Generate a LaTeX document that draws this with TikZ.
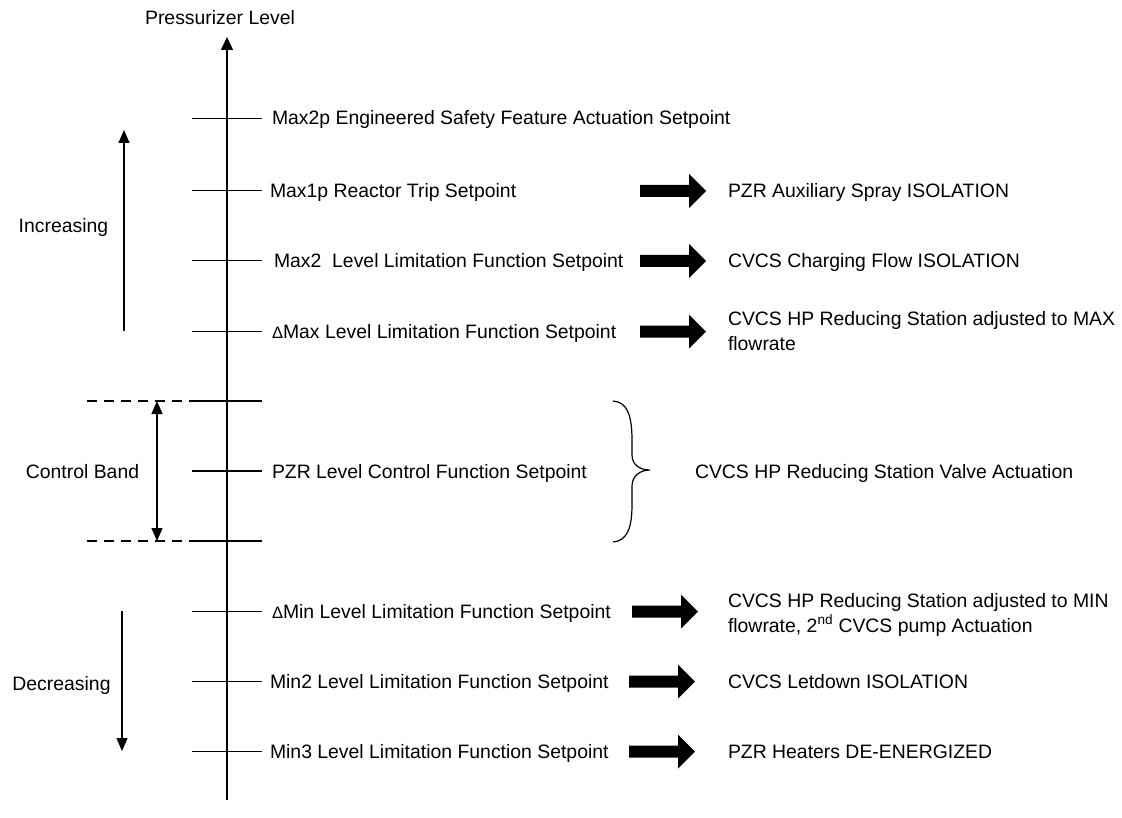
\documentclass[tikz,border=0pt]{standalone}
\usepackage{fontspec}
\setmainfont{Liberation Sans}
\usetikzlibrary{arrows.meta}
\begin{document}
\begin{tikzpicture}[x=1pt,y=-1pt,
  every node/.style={font=\fontsize{19.4}{25}\selectfont, inner sep=0pt, outer sep=0pt},
  lbl/.style={anchor=base west},
  ctr/.style={anchor=base},
  line/.style={line width=1.3pt},
  tip/.style={line width=1.3pt,-{Triangle[length=13pt,width=11pt]}},
  dtip/.style={line width=1.3pt,{Triangle[length=13pt,width=11pt]}-{Triangle[length=13pt,width=11pt]}},
  band/.style={line width=1.3pt, dash pattern=on 10pt off 7pt},
  blockarrow/.pic={\fill[black] (0,-6) -- (49,-6) -- (49,-17) -- (66,0) -- (49,17) -- (49,6) -- (0,6) -- cycle;}
]
\newcommand\dsym{{\fontsize{16.5}{15}\selectfont Δ}}
\useasboundingbox (0,0) rectangle (1122,818);

% title and axis
\node[ctr] (title) at (220,25) {Pressurizer Level};
\coordinate (axbot) at (227,800);
\coordinate (axtop) at (227,37);
\draw[line width=1.5pt,-{Triangle[length=13pt,width=12pt]}] (axbot) -- (axtop);

% ticks
\foreach \n/\y in {t1/118.3,t2/190.5,t3/260.5,t4/331.5,t5/401,t6/471,t7/541,t8/611.7,t9/681.7,t10/751.7}{
  \coordinate (\n L) at (192,\y);
  \coordinate (\n R) at (262,\y);
  \draw[line] (\n L) -- (\n R);
}

% setpoint labels
\node[lbl] (sp1) at (272,125) {Max2p Engineered Safety Feature Actuation Setpoint};
\node[lbl] (sp2) at (270,197.5) {Max1p Reactor Trip Setpoint};
\node[lbl] (sp3) at (274,267.5) {Max2\ \ Level Limitation Function Setpoint};
\node[lbl] (sp4) at (272,338.5) {\dsym Max Level Limitation Function Setpoint};
\node[lbl] (sp6) at (272,478) {PZR Level Control Function Setpoint};
\node[lbl] (sp8) at (272,618.7) {\dsym Min Level Limitation Function Setpoint};
\node[lbl] (sp9) at (270,688.7) {Min2 Level Limitation Function Setpoint};
\node[lbl] (sp10) at (270,758.7) {Min3 Level Limitation Function Setpoint};

% block arrows
\pic (ba2) at (640,191) {blockarrow};
\pic (ba3) at (640,261) {blockarrow};
\pic (ba4) at (640,331.7) {blockarrow};
\pic (ba8) at (632,611.7) {blockarrow};
\pic (ba9) at (629,681.7) {blockarrow};
\pic (ba10) at (629,751.7) {blockarrow};

% action labels
\node[lbl] (ac2) at (728,198) {PZR Auxiliary Spray ISOLATION};
\node[lbl] (ac3) at (728,268) {CVCS Charging Flow ISOLATION};
\node[lbl] (ac4a) at (728,326) {CVCS HP Reducing Station adjusted to MAX};
\node[lbl] (ac4b) at (728,351) {flowrate};
\node[lbl] (ac6) at (695,478) {CVCS HP Reducing Station Valve Actuation};
\node[lbl] (ac8a) at (728,607.5) {CVCS HP Reducing Station adjusted to MIN};
\node[lbl] (ac8b) at (728,632.5) {flowrate, 2\textsuperscript{nd} CVCS pump Actuation};
\node[lbl] (ac9) at (728,688.7) {CVCS Letdown ISOLATION};
\node[lbl] (ac10) at (728,758.7) {PZR Heaters DE-ENERGIZED};

% brace
\draw[line width=1.2pt] (613,401) .. controls (627,402) and (632,415) .. (632,440)
  -- (632,455) .. controls (632,465) and (640,470) .. (650,470)
  .. controls (640,470) and (632,476) .. (632,486)
  -- (632,505) .. controls (632,528) and (627,541) .. (613,542);

% control band
\coordinate (cbtop) at (87,401);
\coordinate (cbbot) at (87,541);
\draw[band] (cbtop) -- (t5L);
\draw[band] (cbbot) -- (t7L);
\coordinate (cba) at (157,401);
\coordinate (cbb) at (157,541);
\draw[dtip] (cba) -- (cbb);
\node[ctr] (cblbl) at (82.5,478) {Control Band};

% increasing / decreasing
\node[ctr] (inc) at (63.5,233) {Increasing};
\coordinate (inca) at (124,331);
\coordinate (incb) at (124,130);
\draw[tip] (inca) -- (incb);
\node[ctr] (dec) at (61.5,690) {Decreasing};
\coordinate (deca) at (122,611);
\coordinate (decb) at (122,751);
\draw[tip] (deca) -- (decb);
\end{tikzpicture}
\end{document}
